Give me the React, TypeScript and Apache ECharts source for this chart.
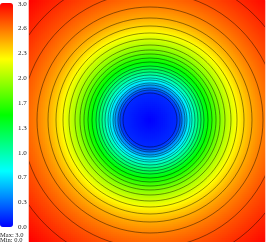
import React, { useEffect, useRef } from 'react';
import * as echarts from 'echarts';

// Colour-bar tick labels (bottom to top) and colour map
const colorbarLabels = ['0.0', '0.3', '0.7', '1.0', '1.3', '1.7', '2.0', '2.3', '2.6', '3.0'];
const colorMap = ['#0000ff', '#00ffff', '#00ff00', '#ffff00', '#ff0000'];
const valueMin = 0;
const valueMax = 3;

// Radial profile: distance from centre (px) -> value
const profileRadius = [0, 27, 30, 32, 35, 37, 40, 42, 45, 48, 51, 54, 58, 62, 66, 70, 75, 81, 87, 94, 102, 113, 128, 148, 171];
const profileValue = [0, 0.125, 0.25, 0.375, 0.5, 0.625, 0.75, 0.875, 1.0, 1.125, 1.25, 1.375, 1.5, 1.625, 1.75, 1.875, 2.0, 2.125, 2.25, 2.375, 2.5, 2.625, 2.75, 2.875, 3.0];

// Contour rings: radius (px) and level
const contourRadius = [27, 30, 32, 35, 37, 40, 42, 45, 48, 51, 54, 58, 62, 66, 70, 75, 81, 87, 94, 102, 113, 128, 148];
const contourLevel = [0.125, 0.25, 0.375, 0.5, 0.625, 0.75, 0.875, 1.0, 1.125, 1.25, 1.375, 1.5, 1.625, 1.75, 1.875, 2.0, 2.125, 2.25, 2.375, 2.5, 2.625, 2.75, 2.875];

// Field centre in plot units (x from left, y from bottom)
const fieldCentre = [121, 122];
const fieldWidth = 236;
const fieldHeight = 242;
const cellSize = 2;

function profileAt(r: number): number {
  if (r <= profileRadius[0]) return profileValue[0];
  for (let k = 1; k < profileRadius.length; k++) {
    if (r <= profileRadius[k]) {
      const t = (r - profileRadius[k - 1]) / (profileRadius[k] - profileRadius[k - 1]);
      return profileValue[k - 1] + t * (profileValue[k] - profileValue[k - 1]);
    }
  }
  return profileValue[profileValue.length - 1];
}

export default function App() {
  const ref = useRef<HTMLDivElement>(null);
  useEffect(() => {
    if (!ref.current) return;
    const chart = echarts.init(ref.current, null, { renderer: 'svg' });
    const nx = fieldWidth / cellSize;
    const ny = fieldHeight / cellSize;
    const xCats: string[] = [];
    const yCats: string[] = [];
    for (let i = 0; i < nx; i++) xCats.push(String(i));
    for (let j = 0; j < ny; j++) yCats.push(String(j));
    const cells: number[][] = [];
    for (let i = 0; i < nx; i++) {
      for (let j = 0; j < ny; j++) {
        const px = (i + 0.5) * cellSize;
        const py = (j + 0.5) * cellSize;
        const r = Math.hypot(px - fieldCentre[0], py - fieldCentre[1]);
        cells.push([i, j, Math.min(valueMax, profileAt(r))]);
      }
    }
    const rings = contourRadius.map((r, k) => [r, contourLevel[k]]);
    const font = 'Liberation Serif';
    chart.setOption({
      animation: false,
      grid: [
        { left: 29, top: 0, width: fieldWidth, height: fieldHeight },
        { left: 0, top: 3, width: 13, height: 224 },
      ],
      xAxis: [
        { type: 'category', gridIndex: 0, data: xCats, show: false },
        { type: 'value', gridIndex: 0, min: 0, max: fieldWidth, show: false, position: 'top' },
        { type: 'value', gridIndex: 1, min: 0, max: 1, show: false },
      ],
      yAxis: [
        { type: 'category', gridIndex: 0, data: yCats, show: false },
        { type: 'value', gridIndex: 0, min: 0, max: fieldHeight, show: false, position: 'right' },
        {
          type: 'category',
          gridIndex: 1,
          position: 'right',
          data: colorbarLabels,
          boundaryGap: false,
          axisLine: { show: false },
          axisTick: {
            show: true,
            length: 3,
            interval: (index: number) => index > 0 && index % 2 === 0,
            lineStyle: { color: '#000', width: 1 },
          },
          axisLabel: { interval: 0, margin: 5, fontSize: 7, fontFamily: font, color: '#222' },
          splitLine: { show: false },
        },
      ],
      visualMap: {
        type: 'continuous',
        seriesIndex: 0,
        min: valueMin,
        max: valueMax,
        calculable: false,
        hoverLink: false,
        orient: 'vertical',
        left: 0,
        top: 3,
        padding: 0,
        itemWidth: 13,
        itemHeight: 224,
        inRange: { color: colorMap },
        textStyle: { fontSize: 0 },
        text: ['', ''],
      },
      graphic: [
        { type: 'text', left: 0, top: 230.5, style: { text: 'Max: 3.0', fontSize: 6.5, fontFamily: font, fill: '#222' } },
        { type: 'text', left: 0, top: 236, style: { text: 'Min: 0.0', fontSize: 6.5, fontFamily: font, fill: '#222' } },
      ],
      series: [
        {
          type: 'heatmap',
          xAxisIndex: 0,
          yAxisIndex: 0,
          data: cells,
          progressive: 0,
          emphasis: { disabled: true },
          itemStyle: { borderWidth: 0 },
        },
        {
          type: 'custom',
          xAxisIndex: 1,
          yAxisIndex: 1,
          clip: true,
          data: rings,
          silent: true,
          renderItem: (params: any, api: any) => {
            const c = api.coord([fieldCentre[0], fieldCentre[1]]);
            const rad = api.size([api.value(0), 0])[0];
            return {
              type: 'circle',
              shape: { cx: c[0], cy: c[1], r: rad },
              style: { fill: 'none', stroke: 'rgba(0,0,0,0.55)', lineWidth: 0.8 },
            };
          },
        },
      ],
    });
    return () => chart.dispose();
  }, []);
  return <div ref={ref} style={{ position: 'fixed', left: 0, top: 0, width: 266, height: 242 }} />;
}
